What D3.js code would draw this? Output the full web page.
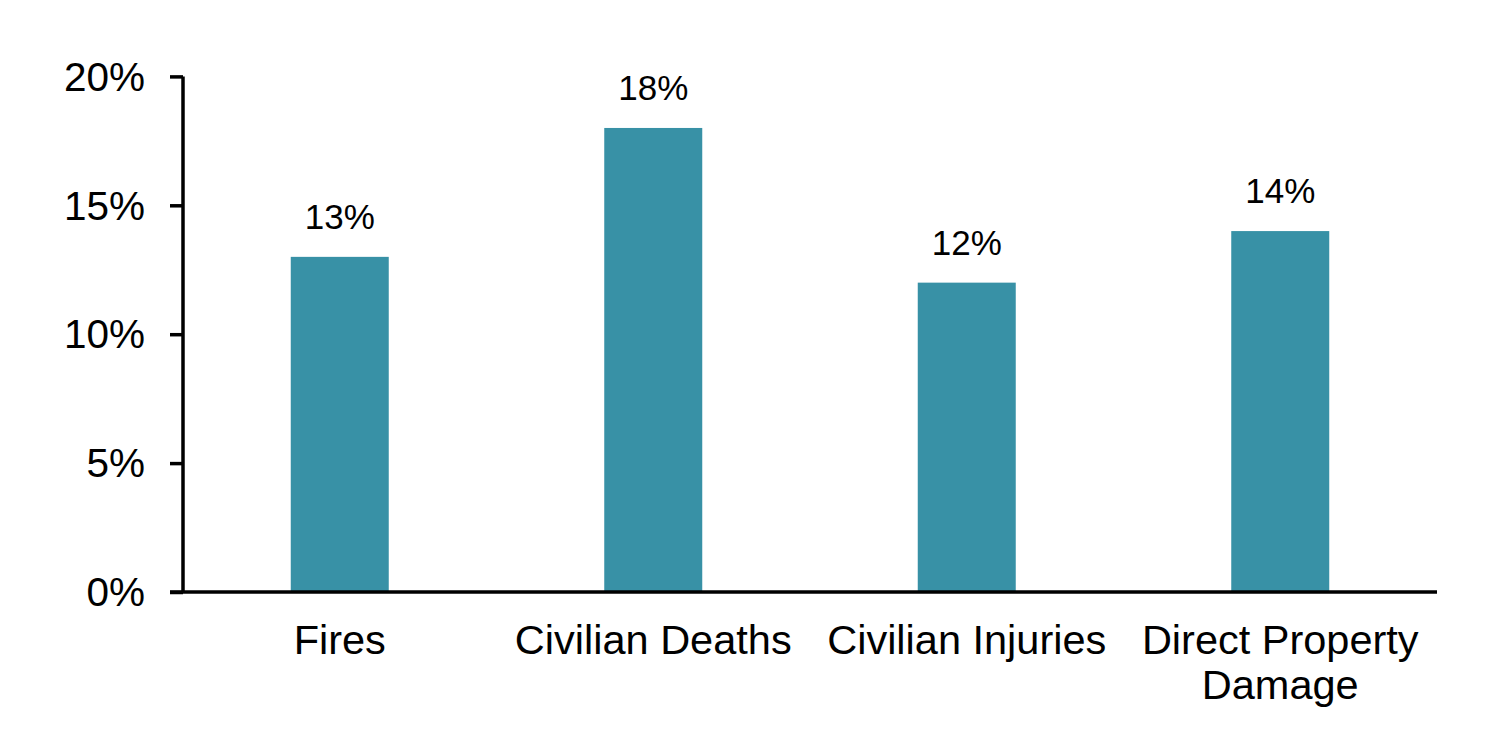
<!DOCTYPE html>
<html>
<head>
<meta charset="utf-8">
<script src="https://cdn.jsdelivr.net/npm/d3@7"></script>
<style>
  html, body { margin: 0; padding: 0; background: #fff; }
  svg { display: block; }
  text { font-family: "Liberation Sans", Arial, sans-serif; fill: #000; }
</style>
</head>
<body>
<svg id="chart" width="1500" height="749"></svg>
<script>
const categories = ["Fires", "Civilian Deaths", "Civilian Injuries", "Direct Property Damage"];
const categoryLines = [["Fires"], ["Civilian Deaths"], ["Civilian Injuries"], ["Direct Property", "Damage"]];
const values = [13, 18, 12, 14];
const yTicks = [0, 5, 10, 15, 20];

const svg = d3.select("#chart");
const mLeft = 183, mRight = 1437, mTop = 76.4, mBottom = 592;

const x = d3.scaleBand().domain(categories).range([mLeft, mRight])
  .paddingInner(0.6874).paddingOuter(0.3437);
const y = d3.scaleLinear().domain([0, 20]).range([mBottom, mTop]);

// bars
svg.append("g").selectAll("rect").data(values).join("rect")
  .attr("x", (d, i) => x(categories[i]))
  .attr("width", x.bandwidth())
  .attr("y", d => y(d))
  .attr("height", d => y(0) - y(d))
  .attr("fill", "#3891a6");

// value labels
svg.append("g").selectAll("text").data(values).join("text")
  .attr("x", (d, i) => x(categories[i]) + x.bandwidth() / 2)
  .attr("y", d => y(d) - 28)
  .attr("text-anchor", "middle")
  .style("font-size", "35px")
  .text(d => d + "%");

// y axis
const yAxis = svg.append("g").attr("transform", `translate(${mLeft},0)`)
  .call(d3.axisLeft(y).tickValues(yTicks).tickFormat(d => d + "%").tickSize(13).tickPadding(25));
yAxis.select(".domain").attr("stroke", "#000").attr("stroke-width", 3.5)
  .attr("d", `M0,${mTop}V${mBottom}`);
yAxis.selectAll(".tick line").attr("stroke", "#000").attr("stroke-width", 3.5);
yAxis.selectAll(".tick text").style("font-size", "40.5px").attr("font-family", null)
  .attr("dy", "0.34em");

// x axis
const xAxis = svg.append("g").attr("transform", `translate(0,${mBottom})`)
  .call(d3.axisBottom(x).tickSize(0).tickFormat(""));
xAxis.select(".domain").attr("stroke", "#000").attr("stroke-width", 3.5)
  .attr("d", `M${mLeft - 13},0H${mRight}`);

// x labels
const xl = svg.append("g").selectAll("text").data(categoryLines).join("text")
  .attr("x", (d, i) => x(categories[i]) + x.bandwidth() / 2)
  .attr("y", 654)
  .attr("text-anchor", "middle")
  .style("font-size", "41.5px");
xl.selectAll("tspan").data(d => d).join("tspan")
  .attr("x", function() { return d3.select(this.parentNode).attr("x"); })
  .attr("dy", (d, i) => i === 0 ? 0 : 45)
  .text(d => d);
</script>
</body>
</html>
